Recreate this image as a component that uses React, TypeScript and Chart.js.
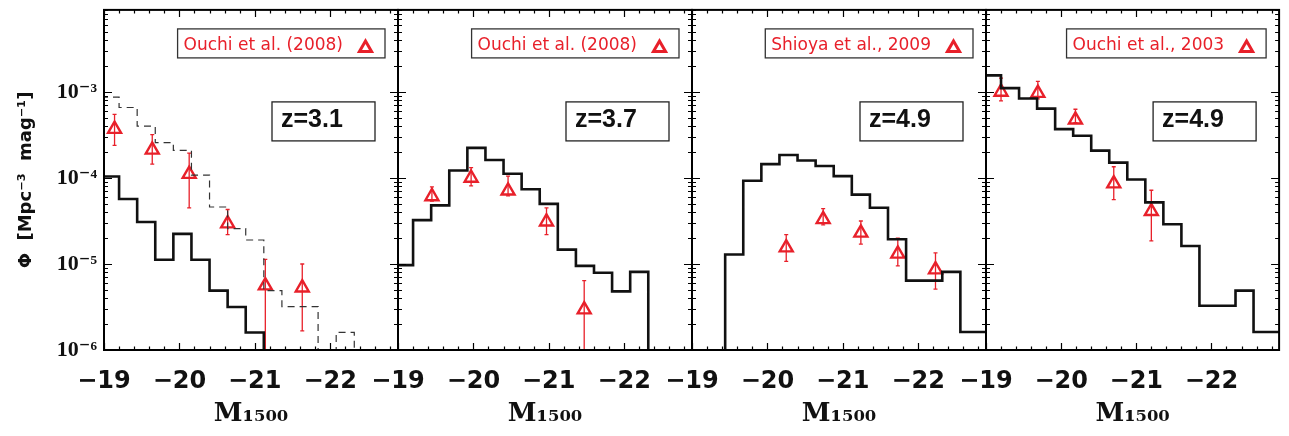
import React, { useEffect, useRef } from 'react';
import { Chart, registerables } from 'chart.js';

Chart.register(...registerables);

const CANVAS_W = 1289;
const CANVAS_H = 436;

// ---------- data ----------
// Shared magnitude bin edges of the model histograms (M1500)
const binEdges = [-18.96, -19.2, -19.44, -19.68, -19.92, -20.16, -20.4, -20.64, -20.88, -21.12, -21.36, -21.6, -21.84, -22.08, -22.32, -22.56, -22.8, -23.04];

const xTickValues = [-22, -21, -20, -19];
const yTickValues = [1e-6, 1e-5, 1e-4, 1e-3];
const yTickLabels = ['10⁻⁶', '10⁻⁵', '10⁻⁴', '10⁻³'];

// Panel 1 (z = 3.1)
const p1Model = [1.04e-4, 5.7e-5, 3.08e-5, 1.12e-5, 2.24e-5, 1.12e-5, 4.9e-6, 3.16e-6, 1.6e-6, 0, 0, 0, 0, 0, 0, 0, 0];
const p1ModelAlt = [8.7e-4, 6.6e-4, 4.0e-4, 2.58e-4, 2.09e-4, 1.08e-4, 4.6e-5, 2.58e-5, 1.9e-5, 4.9e-6, 3.2e-6, 3.2e-6, 0, 1.6e-6, 0, 0, 0];
const p1ObsM = [-19.14, -19.64, -20.13, -20.64, -21.14, -21.63];
const p1ObsPhi = [3.7e-4, 2.12e-4, 1.11e-4, 2.95e-5, 5.6e-6, 5.3e-6];
const p1ObsHi = [5.5e-4, 3.2e-4, 1.95e-4, 4.3e-5, 1.13e-5, 1.0e-5];
const p1ObsLo = [2.4e-4, 1.45e-4, 4.5e-5, 2.2e-5, 0, 1.67e-6];

// Panel 2 (z = 3.7)
const p2Model = [9.7e-6, 3.24e-5, 4.8e-5, 1.22e-4, 2.24e-4, 1.62e-4, 1.12e-4, 7.4e-5, 5.0e-5, 1.47e-5, 9.5e-6, 7.9e-6, 4.8e-6, 8.1e-6, 0, 0, 0];
const p2ObsM = [-19.45, -19.97, -20.46, -20.97, -21.47];
const p2ObsPhi = [6.1e-5, 1.0e-4, 7.1e-5, 3.1e-5, 2.95e-6];
const p2ObsHi = [7.9e-5, 1.32e-4, 1.05e-4, 4.5e-5, 6.4e-6];
const p2ObsLo = [5.4e-5, 8.1e-5, 6.2e-5, 2.2e-5, 0];

// Panel 3 (z = 4.9, Shioya)
const p3Model = [0, 0, 1.29e-5, 9.3e-5, 1.45e-4, 1.85e-4, 1.6e-4, 1.38e-4, 1.05e-4, 6.4e-5, 4.5e-5, 1.94e-5, 6.4e-6, 6.4e-6, 8.1e-6, 1.62e-6, 1.62e-6];
const p3ObsM = [-20.25, -20.74, -21.24, -21.73, -22.23];
const p3ObsPhi = [1.55e-5, 3.3e-5, 2.3e-5, 1.31e-5, 8.6e-6];
const p3ObsHi = [2.2e-5, 4.4e-5, 3.16e-5, 2.0e-5, 1.35e-5];
const p3ObsLo = [1.07e-5, 2.85e-5, 1.7e-5, 9.5e-6, 5.1e-6];

// Panel 4 (z = 4.9, Ouchi 2003)
const p4Model = [1.56e-3, 1.11e-3, 8.4e-4, 6.4e-4, 3.7e-4, 3.1e-4, 2.08e-4, 1.51e-4, 9.6e-5, 5.2e-5, 2.9e-5, 1.62e-5, 3.27e-6, 3.27e-6, 4.9e-6, 1.62e-6, 1.62e-6];
const p4ObsM = [-19.2, -19.69, -20.19, -20.7, -21.2];
const p4ObsPhi = [1.0e-3, 9.7e-4, 4.75e-4, 8.6e-5, 4.1e-5];
const p4ObsHi = [1.45e-3, 1.33e-3, 6.3e-4, 1.35e-4, 7.2e-5];
const p4ObsLo = [7.9e-4, 8.3e-4, 4.4e-4, 5.6e-5, 1.86e-5];

const panelRefText = ['Ouchi et al. (2008)', 'Ouchi et al. (2008)', 'Shioya et al., 2009', 'Ouchi et al., 2003'];
const panelZText = ['z=3.1', 'z=3.7', 'z=4.9', 'z=4.9'];

const panels = [
  { model: p1Model, modelAlt: p1ModelAlt, m: p1ObsM, phi: p1ObsPhi, hi: p1ObsHi, lo: p1ObsLo },
  { model: p2Model, modelAlt: null, m: p2ObsM, phi: p2ObsPhi, hi: p2ObsHi, lo: p2ObsLo },
  { model: p3Model, modelAlt: null, m: p3ObsM, phi: p3ObsPhi, hi: p3ObsHi, lo: p3ObsLo },
  { model: p4Model, modelAlt: null, m: p4ObsM, phi: p4ObsPhi, hi: p4ObsHi, lo: p4ObsLo },
];

// ---------- style / layout ----------
const X_MIN = -22.9;
const X_MAX = -19;
const Y_MIN = 1e-6;
const Y_MAX = 9e-3;
const BELOW_AXIS = 1e-8; // empty bins drawn below the axis (clipped)
const PANEL_LEFT = [104, 398, 692, 986];
const PANEL_W = 294;
const PLOT_TOP = 6;
const PLOT_BOTTOM = 350;
const RED = '#e8202a';

function histPoints(vals: number[]) {
  return binEdges.map((e, k) => {
    const v = vals[Math.min(k, vals.length - 1)];
    return { x: e, y: v > 0 ? v : BELOW_AXIS };
  });
}

function makeDecor(index: number) {
  return {
    id: 'decor' + index,
    beforeDatasetsDraw(chart: any) {
      const { ctx, chartArea: a } = chart;
      const x = chart.scales.x;
      const y = chart.scales.y;
      ctx.save();
      ctx.beginPath();
      ctx.rect(a.left, a.top, a.right - a.left, a.bottom - a.top);
      ctx.clip();
      ctx.strokeStyle = RED;
      ctx.lineWidth = 1.3;
      chart.data.datasets.forEach((ds: any) => {
        if (!ds.errHi) return;
        ds.data.forEach((pt: any, j: number) => {
          const px = x.getPixelForValue(pt.x);
          const hi = ds.errHi[j];
          const lo = ds.errLo[j];
          const yh = y.getPixelForValue(hi);
          const yl = lo > 0 ? y.getPixelForValue(lo) : a.bottom + 2;
          ctx.beginPath();
          ctx.moveTo(px, yh);
          ctx.lineTo(px, yl);
          ctx.moveTo(px - 2, yh);
          ctx.lineTo(px + 2, yh);
          if (lo > 0) {
            ctx.moveTo(px - 2, yl);
            ctx.lineTo(px + 2, yl);
          }
          ctx.stroke();
        });
      });
      ctx.restore();
    },
    afterDatasetsDraw(chart: any) {
      const { ctx, chartArea: a } = chart;
      const x = chart.scales.x;
      const y = chart.scales.y;
      ctx.save();
      ctx.strokeStyle = '#000';
      ctx.lineWidth = 1.2;
      ctx.beginPath();
      // x ticks every 0.2 mag, major every 1
      for (let k = 0; k <= 19; k++) {
        const v = X_MAX - 0.2 * k;
        if (v < X_MIN) break;
        const px = Math.round(x.getPixelForValue(v)) + 0.5;
        const len = k % 5 === 0 ? 7 : 3.5;
        ctx.moveTo(px, a.bottom);
        ctx.lineTo(px, a.bottom - len);
        ctx.moveTo(px, a.top);
        ctx.lineTo(px, a.top + len);
      }
      // y ticks: decades major, 2..9 minor
      for (let d = -6; d <= -3; d++) {
        for (let k = 1; k <= 9; k++) {
          const v = k * Math.pow(10, d);
          if (v > Y_MAX * 1.0001) continue;
          const py = Math.round(y.getPixelForValue(v)) + 0.5;
          const len = k === 1 ? 8 : 4;
          ctx.moveTo(a.left, py);
          ctx.lineTo(a.left + len, py);
          ctx.moveTo(a.right, py);
          ctx.lineTo(a.right - len, py);
        }
      }
      ctx.stroke();
      // frame
      ctx.lineWidth = 2;
      ctx.strokeRect(a.left, a.top, a.right - a.left, a.bottom - a.top);
      ctx.restore();
    },
    afterDraw(chart: any) {
      const { ctx, chartArea: a } = chart;
      ctx.save();
      // reference legend box
      const boxRight = a.right - 13;
      const boxTop = a.top + 19;
      const boxH = 29;
      const triCx = boxRight - 19.5;
      const triCy = boxTop + 19;
      ctx.font = '17px "DejaVu Sans", sans-serif';
      const txt = panelRefText[index];
      const tw = ctx.measureText(txt).width;
      const textRight = triCx - 22.5;
      const boxLeft = textRight - tw - 6;
      ctx.fillStyle = '#fff';
      ctx.fillRect(boxLeft, boxTop, boxRight - boxLeft, boxH);
      ctx.strokeStyle = '#333';
      ctx.lineWidth = 1.3;
      ctx.strokeRect(boxLeft, boxTop, boxRight - boxLeft, boxH);
      ctx.fillStyle = RED;
      ctx.textAlign = 'left';
      ctx.textBaseline = 'alphabetic';
      ctx.fillText(txt, textRight - tw, boxTop + 21);
      const r = 7;
      ctx.beginPath();
      ctx.moveTo(triCx, triCy - r);
      ctx.lineTo(triCx + r * 0.866, triCy + r / 2);
      ctx.lineTo(triCx - r * 0.866, triCy + r / 2);
      ctx.closePath();
      ctx.strokeStyle = RED;
      ctx.lineWidth = 3;
      ctx.stroke();
      // redshift box
      const zRight = a.right - 23;
      const zW = 103;
      const zTop = a.top + 92;
      const zH = 39;
      ctx.strokeStyle = '#222';
      ctx.lineWidth = 1.3;
      ctx.strokeRect(zRight - zW, zTop, zW, zH);
      ctx.fillStyle = '#111';
      ctx.font = 'bold 25px "Liberation Sans", sans-serif';
      ctx.fillText(panelZText[index], zRight - zW + 9, zTop + 25);
      ctx.restore();
    },
  };
}

function buildConfig(index: number) {
  const p = panels[index];
  const left = PANEL_LEFT[index];
  const datasets: any[] = [];
  if (p.modelAlt) {
    datasets.push({
      label: 'model (dashed)',
      data: histPoints(p.modelAlt),
      stepped: true,
      borderColor: '#333',
      borderWidth: 1.2,
      borderDash: [7, 5],
      pointRadius: 0,
      fill: false,
    });
  }
  datasets.push({
    label: 'model',
    data: histPoints(p.model),
    stepped: true,
    borderColor: '#111',
    borderWidth: 2.6,
    pointRadius: 0,
    fill: false,
  });
  datasets.push({
    label: panelRefText[index],
    data: p.m.map((m: number, j: number) => ({ x: m, y: p.phi[j] })),
    errHi: p.hi,
    errLo: p.lo,
    showLine: false,
    pointStyle: 'triangle',
    pointRadius: 7.5,
    pointBorderWidth: 2.4,
    pointBorderColor: RED,
    pointBackgroundColor: 'rgba(0,0,0,0)',
    borderColor: RED,
  });

  const isFirst = index === 0;
  return {
    type: 'line',
    data: { datasets },
    options: {
      responsive: false,
      animation: false,
      devicePixelRatio: 1,
      events: [],
      layout: {
        padding: {
          left: isFirst ? 0 : left,
          right: CANVAS_W - (left + PANEL_W),
          top: PLOT_TOP,
          bottom: 0,
        },
      },
      plugins: {
        legend: { display: false },
        tooltip: { enabled: false },
        title: { display: false },
      },
      scales: {
        x: {
          type: 'linear',
          min: X_MIN,
          max: X_MAX,
          reverse: true,
          grid: { display: false, drawTicks: false },
          border: { display: false },
          afterBuildTicks: (s: any) => {
            s.ticks = xTickValues.map((v) => ({ value: v }));
          },
          afterFit: (s: any) => {
            s.height = CANVAS_H - PLOT_BOTTOM;
            s.paddingLeft = 0;
            s.paddingRight = 0;
          },
          ticks: {
            autoSkip: false,
            maxRotation: 0,
            minRotation: 0,
            padding: 17,
            color: '#111',
            font: { family: '"DejaVu Sans", sans-serif', size: 24, weight: 'bold' },
            callback: (v: any) => '−' + Math.abs(Number(v)),
          },
          title: {
            display: true,
            text: 'M₁₅₀₀',
            color: '#111',
            font: { family: '"DejaVu Serif", serif', size: 26, weight: 'bold' },
            padding: { top: 0, bottom: 6 },
          },
        },
        y: {
          type: 'logarithmic',
          min: Y_MIN,
          max: Y_MAX,
          display: isFirst,
          grid: { display: false, drawTicks: false },
          border: { display: false },
          afterBuildTicks: (s: any) => {
            s.ticks = yTickValues.map((v) => ({ value: v }));
          },
          afterFit: (s: any) => {
            s.width = isFirst ? left : 0;
            s.paddingTop = 0;
            s.paddingBottom = 0;
          },
          ticks: {
            autoSkip: false,
            padding: 7,
            color: '#111',
            font: { family: '"Liberation Serif", "DejaVu Serif", serif', size: 22, weight: 'bold' },
            callback: (_v: any, i: number) => yTickLabels[i],
          },
          title: {
            display: true,
            text: 'Φ  [Mpc⁻³  mag⁻¹]',
            color: '#111',
            font: { family: '"DejaVu Sans", sans-serif', size: 18, weight: 'bold' },
            padding: { top: 16, bottom: 0 },
          },
        },
      },
    },
    plugins: [makeDecor(index)],
  };
}

export default function App() {
  const refs = useRef<(HTMLCanvasElement | null)[]>([]);
  useEffect(() => {
    const charts = panels.map((_p, i) => new Chart(refs.current[i] as HTMLCanvasElement, buildConfig(i) as any));
    return () => charts.forEach((c) => c.destroy());
  }, []);
  return (
    <div style={{ position: 'fixed', left: 0, top: 0, width: CANVAS_W, height: CANVAS_H, background: '#fff' }}>
      {panels.map((_p, i) => (
        <canvas
          key={i}
          ref={(el) => {
            refs.current[i] = el;
          }}
          width={CANVAS_W}
          height={CANVAS_H}
          style={{ position: 'absolute', left: 0, top: 0, width: CANVAS_W, height: CANVAS_H }}
        />
      ))}
    </div>
  );
}
